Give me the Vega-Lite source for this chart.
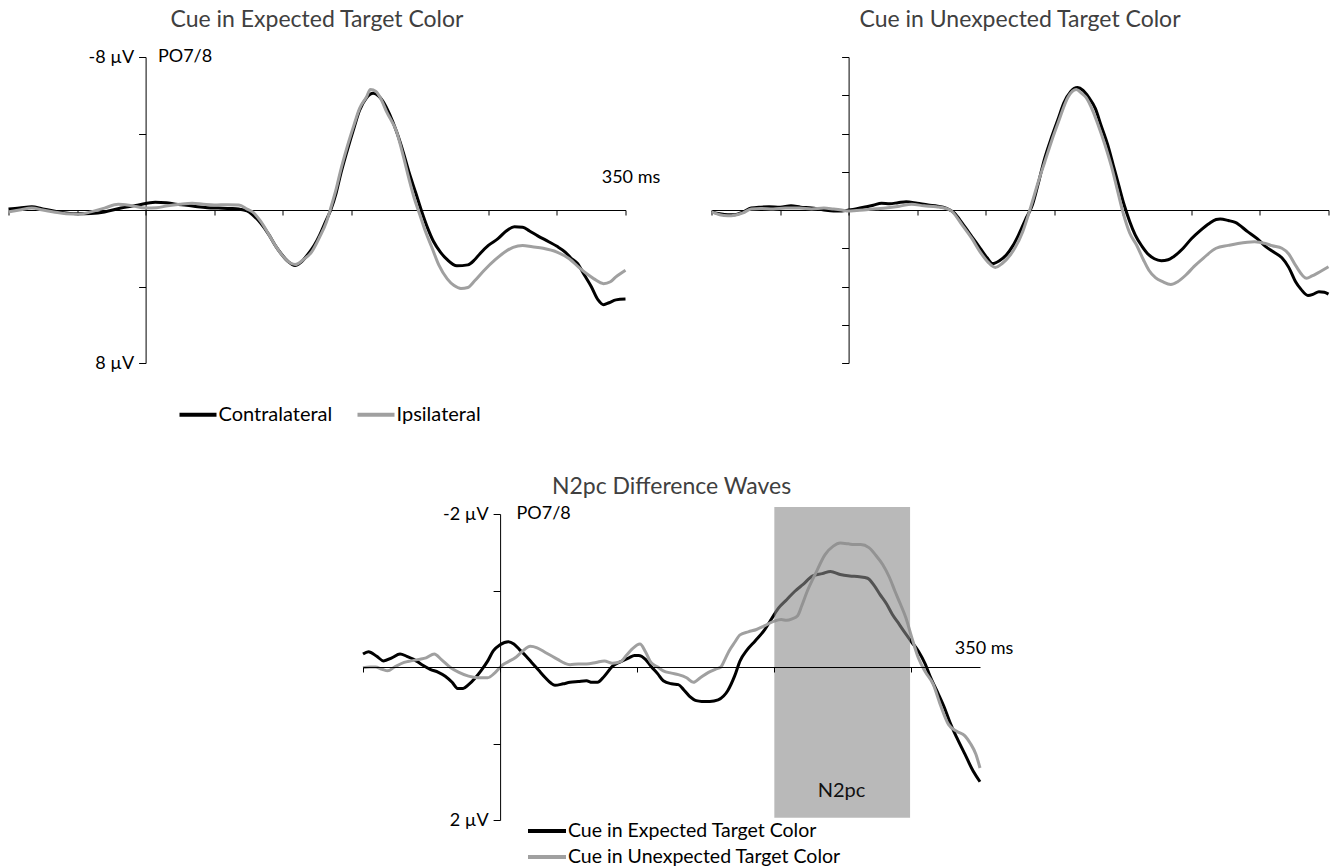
{
  "$schema": "https://vega.github.io/schema/vega-lite/v6.json",
  "background": "white",
  "padding": {"left": 2.5, "top": 8, "right": 5, "bottom": 0},
  "config": {
    "font": "Lato",
    "view": {"stroke": null},
    "axis": {"grid": false, "domainColor": "#000", "tickColor": "#000", "labelColor": "#000", "labelFont": "Lato", "labelFontSize": 18, "title": null, "domainWidth": 1, "tickWidth": 1},
    "legend": {"labelFont": "Lato", "labelFontSize": 20, "labelColor": "#000", "labelLimit": 500},
    "title": {"font": "Lato", "fontSize": 23, "color": "#404040", "fontWeight": "normal"},
    "text": {"font": "Lato"}
  },
  "datasets": {
    "erp": [
      {"p":"A","s":"Contralateral","t":-100,"v":-0.05},{"p":"A","s":"Contralateral","t":-92,"v":-0.1},{"p":"A","s":"Contralateral","t":-83,"v":-0.17},{"p":"A","s":"Contralateral","t":-75,"v":-0.05},{"p":"A","s":"Contralateral","t":-67,"v":0.05},{"p":"A","s":"Contralateral","t":-58,"v":0.15},{"p":"A","s":"Contralateral","t":-49,"v":0.2},{"p":"A","s":"Contralateral","t":-40,"v":0.18},{"p":"A","s":"Contralateral","t":-30,"v":0.1},{"p":"A","s":"Contralateral","t":-18,"v":-0.1},{"p":"A","s":"Contralateral","t":-6,"v":-0.25},{"p":"A","s":"Contralateral","t":7,"v":-0.4},{"p":"A","s":"Contralateral","t":15,"v":-0.38},{"p":"A","s":"Contralateral","t":22,"v":-0.3},{"p":"A","s":"Contralateral","t":30,"v":-0.25},{"p":"A","s":"Contralateral","t":38,"v":-0.17},{"p":"A","s":"Contralateral","t":45,"v":-0.12},{"p":"A","s":"Contralateral","t":53,"v":-0.1},{"p":"A","s":"Contralateral","t":62,"v":-0.08},{"p":"A","s":"Contralateral","t":68,"v":-0.05},{"p":"A","s":"Contralateral","t":74,"v":0.05},{"p":"A","s":"Contralateral","t":78,"v":0.25},{"p":"A","s":"Contralateral","t":84,"v":0.7},{"p":"A","s":"Contralateral","t":90,"v":1.3},{"p":"A","s":"Contralateral","t":95,"v":1.9},{"p":"A","s":"Contralateral","t":99,"v":2.3},{"p":"A","s":"Contralateral","t":104,"v":2.7},{"p":"A","s":"Contralateral","t":109,"v":2.9},{"p":"A","s":"Contralateral","t":113,"v":2.75},{"p":"A","s":"Contralateral","t":118,"v":2.35},{"p":"A","s":"Contralateral","t":123,"v":1.85},{"p":"A","s":"Contralateral","t":127,"v":1.3},{"p":"A","s":"Contralateral","t":131,"v":0.65},{"p":"A","s":"Contralateral","t":135,"v":0},{"p":"A","s":"Contralateral","t":139,"v":-0.9},{"p":"A","s":"Contralateral","t":142,"v":-1.8},{"p":"A","s":"Contralateral","t":147,"v":-3.1},{"p":"A","s":"Contralateral","t":152,"v":-4.3},{"p":"A","s":"Contralateral","t":156,"v":-5.2},{"p":"A","s":"Contralateral","t":161,"v":-5.85},{"p":"A","s":"Contralateral","t":166,"v":-6.1},{"p":"A","s":"Contralateral","t":170,"v":-5.95},{"p":"A","s":"Contralateral","t":173,"v":-5.7},{"p":"A","s":"Contralateral","t":178,"v":-5.0},{"p":"A","s":"Contralateral","t":183,"v":-4.1},{"p":"A","s":"Contralateral","t":188,"v":-3.0},{"p":"A","s":"Contralateral","t":192,"v":-2.0},{"p":"A","s":"Contralateral","t":197,"v":-0.9},{"p":"A","s":"Contralateral","t":201,"v":0},{"p":"A","s":"Contralateral","t":206,"v":1.0},{"p":"A","s":"Contralateral","t":210,"v":1.65},{"p":"A","s":"Contralateral","t":215,"v":2.2},{"p":"A","s":"Contralateral","t":220,"v":2.6},{"p":"A","s":"Contralateral","t":227,"v":2.92},{"p":"A","s":"Contralateral","t":235,"v":2.87},{"p":"A","s":"Contralateral","t":240,"v":2.6},{"p":"A","s":"Contralateral","t":244,"v":2.27},{"p":"A","s":"Contralateral","t":250,"v":1.85},{"p":"A","s":"Contralateral","t":257,"v":1.5},{"p":"A","s":"Contralateral","t":263,"v":1.1},{"p":"A","s":"Contralateral","t":269,"v":0.87},{"p":"A","s":"Contralateral","t":275,"v":0.9},{"p":"A","s":"Contralateral","t":280,"v":1.1},{"p":"A","s":"Contralateral","t":286,"v":1.35},{"p":"A","s":"Contralateral","t":294,"v":1.66},{"p":"A","s":"Contralateral","t":300,"v":1.9},{"p":"A","s":"Contralateral","t":306,"v":2.2},{"p":"A","s":"Contralateral","t":310,"v":2.5},{"p":"A","s":"Contralateral","t":315,"v":2.8},{"p":"A","s":"Contralateral","t":320,"v":3.4},{"p":"A","s":"Contralateral","t":325,"v":4.0},{"p":"A","s":"Contralateral","t":330,"v":4.7},{"p":"A","s":"Contralateral","t":334,"v":4.95},{"p":"A","s":"Contralateral","t":338,"v":4.85},{"p":"A","s":"Contralateral","t":343,"v":4.7},{"p":"A","s":"Contralateral","t":350,"v":4.66},
      {"p":"A","s":"Ipsilateral","t":-100,"v":0.1},{"p":"A","s":"Ipsilateral","t":-92,"v":0.0},{"p":"A","s":"Ipsilateral","t":-83,"v":-0.1},{"p":"A","s":"Ipsilateral","t":-75,"v":0.0},{"p":"A","s":"Ipsilateral","t":-67,"v":0.1},{"p":"A","s":"Ipsilateral","t":-58,"v":0.2},{"p":"A","s":"Ipsilateral","t":-49,"v":0.22},{"p":"A","s":"Ipsilateral","t":-40,"v":0.1},{"p":"A","s":"Ipsilateral","t":-30,"v":-0.1},{"p":"A","s":"Ipsilateral","t":-20,"v":-0.3},{"p":"A","s":"Ipsilateral","t":-10,"v":-0.22},{"p":"A","s":"Ipsilateral","t":0,"v":-0.1},{"p":"A","s":"Ipsilateral","t":8,"v":-0.12},{"p":"A","s":"Ipsilateral","t":16,"v":-0.22},{"p":"A","s":"Ipsilateral","t":25,"v":-0.3},{"p":"A","s":"Ipsilateral","t":34,"v":-0.35},{"p":"A","s":"Ipsilateral","t":42,"v":-0.3},{"p":"A","s":"Ipsilateral","t":50,"v":-0.26},{"p":"A","s":"Ipsilateral","t":60,"v":-0.28},{"p":"A","s":"Ipsilateral","t":68,"v":-0.26},{"p":"A","s":"Ipsilateral","t":74,"v":-0.05},{"p":"A","s":"Ipsilateral","t":78,"v":0.1},{"p":"A","s":"Ipsilateral","t":84,"v":0.6},{"p":"A","s":"Ipsilateral","t":90,"v":1.3},{"p":"A","s":"Ipsilateral","t":95,"v":1.9},{"p":"A","s":"Ipsilateral","t":100,"v":2.4},{"p":"A","s":"Ipsilateral","t":104,"v":2.7},{"p":"A","s":"Ipsilateral","t":109,"v":2.85},{"p":"A","s":"Ipsilateral","t":115,"v":2.6},{"p":"A","s":"Ipsilateral","t":121,"v":2.2},{"p":"A","s":"Ipsilateral","t":127,"v":1.4},{"p":"A","s":"Ipsilateral","t":132,"v":0.6},{"p":"A","s":"Ipsilateral","t":135,"v":-0.1},{"p":"A","s":"Ipsilateral","t":139,"v":-1.1},{"p":"A","s":"Ipsilateral","t":142,"v":-2.0},{"p":"A","s":"Ipsilateral","t":147,"v":-3.3},{"p":"A","s":"Ipsilateral","t":152,"v":-4.45},{"p":"A","s":"Ipsilateral","t":156,"v":-5.3},{"p":"A","s":"Ipsilateral","t":161,"v":-5.9},{"p":"A","s":"Ipsilateral","t":164,"v":-6.3},{"p":"A","s":"Ipsilateral","t":168,"v":-6.2},{"p":"A","s":"Ipsilateral","t":171,"v":-5.9},{"p":"A","s":"Ipsilateral","t":176,"v":-5.1},{"p":"A","s":"Ipsilateral","t":183,"v":-4.1},{"p":"A","s":"Ipsilateral","t":188,"v":-2.8},{"p":"A","s":"Ipsilateral","t":192,"v":-1.65},{"p":"A","s":"Ipsilateral","t":196,"v":-0.6},{"p":"A","s":"Ipsilateral","t":200,"v":0.25},{"p":"A","s":"Ipsilateral","t":204,"v":1.1},{"p":"A","s":"Ipsilateral","t":209,"v":2.0},{"p":"A","s":"Ipsilateral","t":214,"v":2.9},{"p":"A","s":"Ipsilateral","t":220,"v":3.6},{"p":"A","s":"Ipsilateral","t":225,"v":3.95},{"p":"A","s":"Ipsilateral","t":230,"v":4.1},{"p":"A","s":"Ipsilateral","t":235,"v":4.05},{"p":"A","s":"Ipsilateral","t":240,"v":3.7},{"p":"A","s":"Ipsilateral","t":247,"v":3.15},{"p":"A","s":"Ipsilateral","t":255,"v":2.6},{"p":"A","s":"Ipsilateral","t":262,"v":2.2},{"p":"A","s":"Ipsilateral","t":268,"v":1.95},{"p":"A","s":"Ipsilateral","t":275,"v":1.85},{"p":"A","s":"Ipsilateral","t":282,"v":1.92},{"p":"A","s":"Ipsilateral","t":290,"v":2.0},{"p":"A","s":"Ipsilateral","t":300,"v":2.2},{"p":"A","s":"Ipsilateral","t":309,"v":2.55},{"p":"A","s":"Ipsilateral","t":316,"v":3.0},{"p":"A","s":"Ipsilateral","t":322,"v":3.35},{"p":"A","s":"Ipsilateral","t":327,"v":3.6},{"p":"A","s":"Ipsilateral","t":334,"v":3.85},{"p":"A","s":"Ipsilateral","t":339,"v":3.75},{"p":"A","s":"Ipsilateral","t":343,"v":3.5},{"p":"A","s":"Ipsilateral","t":350,"v":3.15},
      {"p":"B","s":"Contralateral","t":-100,"v":0.1},{"p":"B","s":"Contralateral","t":-94,"v":0.2},{"p":"B","s":"Contralateral","t":-88,"v":0.25},{"p":"B","s":"Contralateral","t":-83,"v":0.25},{"p":"B","s":"Contralateral","t":-77,"v":0.1},{"p":"B","s":"Contralateral","t":-71,"v":-0.1},{"p":"B","s":"Contralateral","t":-64,"v":-0.15},{"p":"B","s":"Contralateral","t":-58,"v":-0.17},{"p":"B","s":"Contralateral","t":-50,"v":-0.15},{"p":"B","s":"Contralateral","t":-42,"v":-0.22},{"p":"B","s":"Contralateral","t":-35,"v":-0.15},{"p":"B","s":"Contralateral","t":-27,"v":-0.1},{"p":"B","s":"Contralateral","t":-18,"v":0.0},{"p":"B","s":"Contralateral","t":-11,"v":0.05},{"p":"B","s":"Contralateral","t":-5,"v":0.05},{"p":"B","s":"Contralateral","t":0,"v":0.0},{"p":"B","s":"Contralateral","t":6,"v":-0.07},{"p":"B","s":"Contralateral","t":11,"v":-0.14},{"p":"B","s":"Contralateral","t":18,"v":-0.25},{"p":"B","s":"Contralateral","t":24,"v":-0.35},{"p":"B","s":"Contralateral","t":30,"v":-0.33},{"p":"B","s":"Contralateral","t":36,"v":-0.38},{"p":"B","s":"Contralateral","t":42,"v":-0.43},{"p":"B","s":"Contralateral","t":50,"v":-0.35},{"p":"B","s":"Contralateral","t":58,"v":-0.26},{"p":"B","s":"Contralateral","t":65,"v":-0.2},{"p":"B","s":"Contralateral","t":71,"v":-0.1},{"p":"B","s":"Contralateral","t":77,"v":0.15},{"p":"B","s":"Contralateral","t":83,"v":0.7},{"p":"B","s":"Contralateral","t":90,"v":1.4},{"p":"B","s":"Contralateral","t":96,"v":2.0},{"p":"B","s":"Contralateral","t":101,"v":2.5},{"p":"B","s":"Contralateral","t":105,"v":2.8},{"p":"B","s":"Contralateral","t":110,"v":2.65},{"p":"B","s":"Contralateral","t":115,"v":2.35},{"p":"B","s":"Contralateral","t":120,"v":1.85},{"p":"B","s":"Contralateral","t":124,"v":1.3},{"p":"B","s":"Contralateral","t":129,"v":0.5},{"p":"B","s":"Contralateral","t":134,"v":-0.26},{"p":"B","s":"Contralateral","t":138,"v":-1.3},{"p":"B","s":"Contralateral","t":143,"v":-2.7},{"p":"B","s":"Contralateral","t":148,"v":-3.8},{"p":"B","s":"Contralateral","t":153,"v":-4.8},{"p":"B","s":"Contralateral","t":157,"v":-5.6},{"p":"B","s":"Contralateral","t":162,"v":-6.2},{"p":"B","s":"Contralateral","t":167,"v":-6.4},{"p":"B","s":"Contralateral","t":171,"v":-6.25},{"p":"B","s":"Contralateral","t":175,"v":-5.9},{"p":"B","s":"Contralateral","t":180,"v":-5.3},{"p":"B","s":"Contralateral","t":184,"v":-4.45},{"p":"B","s":"Contralateral","t":189,"v":-3.4},{"p":"B","s":"Contralateral","t":193,"v":-2.35},{"p":"B","s":"Contralateral","t":197,"v":-1.3},{"p":"B","s":"Contralateral","t":201,"v":-0.26},{"p":"B","s":"Contralateral","t":205,"v":0.6},{"p":"B","s":"Contralateral","t":209,"v":1.3},{"p":"B","s":"Contralateral","t":214,"v":1.9},{"p":"B","s":"Contralateral","t":219,"v":2.35},{"p":"B","s":"Contralateral","t":223,"v":2.55},{"p":"B","s":"Contralateral","t":228,"v":2.65},{"p":"B","s":"Contralateral","t":233,"v":2.6},{"p":"B","s":"Contralateral","t":237,"v":2.44},{"p":"B","s":"Contralateral","t":244,"v":2.0},{"p":"B","s":"Contralateral","t":250,"v":1.5},{"p":"B","s":"Contralateral","t":256,"v":1.1},{"p":"B","s":"Contralateral","t":263,"v":0.7},{"p":"B","s":"Contralateral","t":268,"v":0.5},{"p":"B","s":"Contralateral","t":271,"v":0.47},{"p":"B","s":"Contralateral","t":277,"v":0.55},{"p":"B","s":"Contralateral","t":282,"v":0.65},{"p":"B","s":"Contralateral","t":291,"v":1.13},{"p":"B","s":"Contralateral","t":298,"v":1.5},{"p":"B","s":"Contralateral","t":304,"v":1.9},{"p":"B","s":"Contralateral","t":310,"v":2.2},{"p":"B","s":"Contralateral","t":316,"v":2.5},{"p":"B","s":"Contralateral","t":321,"v":3.0},{"p":"B","s":"Contralateral","t":326,"v":3.75},{"p":"B","s":"Contralateral","t":330,"v":4.15},{"p":"B","s":"Contralateral","t":335,"v":4.47},{"p":"B","s":"Contralateral","t":339,"v":4.4},{"p":"B","s":"Contralateral","t":343,"v":4.27},{"p":"B","s":"Contralateral","t":347,"v":4.3},{"p":"B","s":"Contralateral","t":350,"v":4.4},
      {"p":"B","s":"Ipsilateral","t":-100,"v":0.1},{"p":"B","s":"Ipsilateral","t":-94,"v":0.25},{"p":"B","s":"Ipsilateral","t":-88,"v":0.3},{"p":"B","s":"Ipsilateral","t":-83,"v":0.27},{"p":"B","s":"Ipsilateral","t":-77,"v":0.15},{"p":"B","s":"Ipsilateral","t":-71,"v":-0.05},{"p":"B","s":"Ipsilateral","t":-64,"v":-0.08},{"p":"B","s":"Ipsilateral","t":-55,"v":-0.05},{"p":"B","s":"Ipsilateral","t":-46,"v":-0.1},{"p":"B","s":"Ipsilateral","t":-36,"v":-0.1},{"p":"B","s":"Ipsilateral","t":-27,"v":-0.05},{"p":"B","s":"Ipsilateral","t":-18,"v":-0.1},{"p":"B","s":"Ipsilateral","t":-11,"v":-0.05},{"p":"B","s":"Ipsilateral","t":-5,"v":0.0},{"p":"B","s":"Ipsilateral","t":0,"v":0.05},{"p":"B","s":"Ipsilateral","t":6,"v":0.02},{"p":"B","s":"Ipsilateral","t":11,"v":0.0},{"p":"B","s":"Ipsilateral","t":20,"v":-0.07},{"p":"B","s":"Ipsilateral","t":27,"v":-0.1},{"p":"B","s":"Ipsilateral","t":37,"v":-0.2},{"p":"B","s":"Ipsilateral","t":46,"v":-0.3},{"p":"B","s":"Ipsilateral","t":55,"v":-0.22},{"p":"B","s":"Ipsilateral","t":64,"v":-0.17},{"p":"B","s":"Ipsilateral","t":74,"v":0.0},{"p":"B","s":"Ipsilateral","t":83,"v":0.8},{"p":"B","s":"Ipsilateral","t":90,"v":1.5},{"p":"B","s":"Ipsilateral","t":96,"v":2.2},{"p":"B","s":"Ipsilateral","t":102,"v":2.75},{"p":"B","s":"Ipsilateral","t":107,"v":3.0},{"p":"B","s":"Ipsilateral","t":112,"v":2.8},{"p":"B","s":"Ipsilateral","t":118,"v":2.35},{"p":"B","s":"Ipsilateral","t":127,"v":1.13},{"p":"B","s":"Ipsilateral","t":134,"v":-0.43},{"p":"B","s":"Ipsilateral","t":138,"v":-1.4},{"p":"B","s":"Ipsilateral","t":143,"v":-2.5},{"p":"B","s":"Ipsilateral","t":148,"v":-3.6},{"p":"B","s":"Ipsilateral","t":153,"v":-4.6},{"p":"B","s":"Ipsilateral","t":160,"v":-5.9},{"p":"B","s":"Ipsilateral","t":166,"v":-6.3},{"p":"B","s":"Ipsilateral","t":170,"v":-6.1},{"p":"B","s":"Ipsilateral","t":173,"v":-5.9},{"p":"B","s":"Ipsilateral","t":178,"v":-5.2},{"p":"B","s":"Ipsilateral","t":182,"v":-4.45},{"p":"B","s":"Ipsilateral","t":187,"v":-3.4},{"p":"B","s":"Ipsilateral","t":192,"v":-2.2},{"p":"B","s":"Ipsilateral","t":196,"v":-1.05},{"p":"B","s":"Ipsilateral","t":200,"v":0.1},{"p":"B","s":"Ipsilateral","t":205,"v":1.2},{"p":"B","s":"Ipsilateral","t":210,"v":1.83},{"p":"B","s":"Ipsilateral","t":215,"v":2.6},{"p":"B","s":"Ipsilateral","t":219,"v":3.15},{"p":"B","s":"Ipsilateral","t":224,"v":3.55},{"p":"B","s":"Ipsilateral","t":229,"v":3.75},{"p":"B","s":"Ipsilateral","t":235,"v":3.9},{"p":"B","s":"Ipsilateral","t":240,"v":3.75},{"p":"B","s":"Ipsilateral","t":246,"v":3.4},{"p":"B","s":"Ipsilateral","t":252,"v":2.95},{"p":"B","s":"Ipsilateral","t":259,"v":2.5},{"p":"B","s":"Ipsilateral","t":268,"v":2.0},{"p":"B","s":"Ipsilateral","t":277,"v":1.85},{"p":"B","s":"Ipsilateral","t":284,"v":1.75},{"p":"B","s":"Ipsilateral","t":296,"v":1.66},{"p":"B","s":"Ipsilateral","t":304,"v":1.75},{"p":"B","s":"Ipsilateral","t":309,"v":1.87},{"p":"B","s":"Ipsilateral","t":316,"v":2.0},{"p":"B","s":"Ipsilateral","t":321,"v":2.3},{"p":"B","s":"Ipsilateral","t":326,"v":2.9},{"p":"B","s":"Ipsilateral","t":334,"v":3.57},{"p":"B","s":"Ipsilateral","t":338,"v":3.45},{"p":"B","s":"Ipsilateral","t":342,"v":3.3},{"p":"B","s":"Ipsilateral","t":350,"v":2.97}
    ],
    "diff": [
      {"s":"Cue in Expected Target Color","t":-100,"v":-0.17},{"s":"Cue in Expected Target Color","t":-96,"v":-0.2},{"s":"Cue in Expected Target Color","t":-90,"v":-0.14},{"s":"Cue in Expected Target Color","t":-85,"v":-0.08},{"s":"Cue in Expected Target Color","t":-79,"v":-0.12},{"s":"Cue in Expected Target Color","t":-73,"v":-0.17},{"s":"Cue in Expected Target Color","t":-68,"v":-0.14},{"s":"Cue in Expected Target Color","t":-63,"v":-0.1},{"s":"Cue in Expected Target Color","t":-57,"v":-0.03},{"s":"Cue in Expected Target Color","t":-51,"v":0.03},{"s":"Cue in Expected Target Color","t":-45,"v":0.07},{"s":"Cue in Expected Target Color","t":-40,"v":0.12},{"s":"Cue in Expected Target Color","t":-35,"v":0.2},{"s":"Cue in Expected Target Color","t":-31,"v":0.28},{"s":"Cue in Expected Target Color","t":-27,"v":0.28},{"s":"Cue in Expected Target Color","t":-23,"v":0.23},{"s":"Cue in Expected Target Color","t":-18,"v":0.14},{"s":"Cue in Expected Target Color","t":-14,"v":0.05},{"s":"Cue in Expected Target Color","t":-9,"v":-0.08},{"s":"Cue in Expected Target Color","t":-5,"v":-0.21},{"s":"Cue in Expected Target Color","t":0,"v":-0.29},{"s":"Cue in Expected Target Color","t":6,"v":-0.33},{"s":"Cue in Expected Target Color","t":10,"v":-0.3},{"s":"Cue in Expected Target Color","t":14,"v":-0.23},{"s":"Cue in Expected Target Color","t":19,"v":-0.14},{"s":"Cue in Expected Target Color","t":23,"v":-0.06},{"s":"Cue in Expected Target Color","t":28,"v":0.04},{"s":"Cue in Expected Target Color","t":33,"v":0.14},{"s":"Cue in Expected Target Color","t":37,"v":0.21},{"s":"Cue in Expected Target Color","t":40,"v":0.24},{"s":"Cue in Expected Target Color","t":46,"v":0.22},{"s":"Cue in Expected Target Color","t":51,"v":0.2},{"s":"Cue in Expected Target Color","t":57,"v":0.19},{"s":"Cue in Expected Target Color","t":63,"v":0.18},{"s":"Cue in Expected Target Color","t":67,"v":0.2},{"s":"Cue in Expected Target Color","t":71,"v":0.2},{"s":"Cue in Expected Target Color","t":76,"v":0.12},{"s":"Cue in Expected Target Color","t":82,"v":-0.01},{"s":"Cue in Expected Target Color","t":88,"v":-0.07},{"s":"Cue in Expected Target Color","t":94,"v":-0.12},{"s":"Cue in Expected Target Color","t":98,"v":-0.15},{"s":"Cue in Expected Target Color","t":101,"v":-0.15},{"s":"Cue in Expected Target Color","t":106,"v":-0.1},{"s":"Cue in Expected Target Color","t":110,"v":-0.01},{"s":"Cue in Expected Target Color","t":115,"v":0.09},{"s":"Cue in Expected Target Color","t":119,"v":0.18},{"s":"Cue in Expected Target Color","t":125,"v":0.22},{"s":"Cue in Expected Target Color","t":130,"v":0.23},{"s":"Cue in Expected Target Color","t":134,"v":0.3},{"s":"Cue in Expected Target Color","t":138,"v":0.38},{"s":"Cue in Expected Target Color","t":143,"v":0.44},{"s":"Cue in Expected Target Color","t":147,"v":0.45},{"s":"Cue in Expected Target Color","t":153,"v":0.45},{"s":"Cue in Expected Target Color","t":159,"v":0.43},{"s":"Cue in Expected Target Color","t":163,"v":0.38},{"s":"Cue in Expected Target Color","t":166,"v":0.31},{"s":"Cue in Expected Target Color","t":171,"v":0.12},{"s":"Cue in Expected Target Color","t":175,"v":-0.08},{"s":"Cue in Expected Target Color","t":180,"v":-0.22},{"s":"Cue in Expected Target Color","t":186,"v":-0.34},{"s":"Cue in Expected Target Color","t":193,"v":-0.49},{"s":"Cue in Expected Target Color","t":198,"v":-0.63},{"s":"Cue in Expected Target Color","t":203,"v":-0.77},{"s":"Cue in Expected Target Color","t":209,"v":-0.88},{"s":"Cue in Expected Target Color","t":215,"v":-0.99},{"s":"Cue in Expected Target Color","t":221,"v":-1.08},{"s":"Cue in Expected Target Color","t":228,"v":-1.19},{"s":"Cue in Expected Target Color","t":235,"v":-1.22},{"s":"Cue in Expected Target Color","t":241,"v":-1.25},{"s":"Cue in Expected Target Color","t":248,"v":-1.21},{"s":"Cue in Expected Target Color","t":255,"v":-1.19},{"s":"Cue in Expected Target Color","t":262,"v":-1.18},{"s":"Cue in Expected Target Color","t":268,"v":-1.16},{"s":"Cue in Expected Target Color","t":273,"v":-1.06},{"s":"Cue in Expected Target Color","t":277,"v":-0.95},{"s":"Cue in Expected Target Color","t":282,"v":-0.82},{"s":"Cue in Expected Target Color","t":286,"v":-0.69},{"s":"Cue in Expected Target Color","t":291,"v":-0.56},{"s":"Cue in Expected Target Color","t":296,"v":-0.43},{"s":"Cue in Expected Target Color","t":300,"v":-0.33},{"s":"Cue in Expected Target Color","t":305,"v":-0.21},{"s":"Cue in Expected Target Color","t":310,"v":-0.04},{"s":"Cue in Expected Target Color","t":314,"v":0.14},{"s":"Cue in Expected Target Color","t":319,"v":0.33},{"s":"Cue in Expected Target Color","t":324,"v":0.53},{"s":"Cue in Expected Target Color","t":328,"v":0.72},{"s":"Cue in Expected Target Color","t":333,"v":0.92},{"s":"Cue in Expected Target Color","t":339,"v":1.14},{"s":"Cue in Expected Target Color","t":345,"v":1.36},{"s":"Cue in Expected Target Color","t":350,"v":1.5},
      {"s":"Cue in Unexpected Target Color","t":-100,"v":0.01},{"s":"Cue in Unexpected Target Color","t":-95,"v":0.0},{"s":"Cue in Unexpected Target Color","t":-91,"v":0.0},{"s":"Cue in Unexpected Target Color","t":-86,"v":0.03},{"s":"Cue in Unexpected Target Color","t":-82,"v":0.05},{"s":"Cue in Unexpected Target Color","t":-77,"v":0.0},{"s":"Cue in Unexpected Target Color","t":-70,"v":-0.06},{"s":"Cue in Unexpected Target Color","t":-65,"v":-0.08},{"s":"Cue in Unexpected Target Color","t":-59,"v":-0.1},{"s":"Cue in Unexpected Target Color","t":-54,"v":-0.12},{"s":"Cue in Unexpected Target Color","t":-48,"v":-0.17},{"s":"Cue in Unexpected Target Color","t":-43,"v":-0.1},{"s":"Cue in Unexpected Target Color","t":-36,"v":0.01},{"s":"Cue in Unexpected Target Color","t":-30,"v":0.07},{"s":"Cue in Unexpected Target Color","t":-23,"v":0.12},{"s":"Cue in Unexpected Target Color","t":-16,"v":0.14},{"s":"Cue in Unexpected Target Color","t":-9,"v":0.14},{"s":"Cue in Unexpected Target Color","t":-4,"v":0.08},{"s":"Cue in Unexpected Target Color","t":2,"v":-0.03},{"s":"Cue in Unexpected Target Color","t":6,"v":-0.07},{"s":"Cue in Unexpected Target Color","t":11,"v":-0.12},{"s":"Cue in Unexpected Target Color","t":16,"v":-0.2},{"s":"Cue in Unexpected Target Color","t":22,"v":-0.27},{"s":"Cue in Unexpected Target Color","t":27,"v":-0.25},{"s":"Cue in Unexpected Target Color","t":33,"v":-0.19},{"s":"Cue in Unexpected Target Color","t":38,"v":-0.14},{"s":"Cue in Unexpected Target Color","t":42,"v":-0.1},{"s":"Cue in Unexpected Target Color","t":47,"v":-0.05},{"s":"Cue in Unexpected Target Color","t":51,"v":-0.03},{"s":"Cue in Unexpected Target Color","t":57,"v":-0.04},{"s":"Cue in Unexpected Target Color","t":63,"v":-0.04},{"s":"Cue in Unexpected Target Color","t":70,"v":-0.06},{"s":"Cue in Unexpected Target Color","t":76,"v":-0.08},{"s":"Cue in Unexpected Target Color","t":82,"v":-0.05},{"s":"Cue in Unexpected Target Color","t":88,"v":-0.07},{"s":"Cue in Unexpected Target Color","t":92,"v":-0.15},{"s":"Cue in Unexpected Target Color","t":96,"v":-0.23},{"s":"Cue in Unexpected Target Color","t":102,"v":-0.3},{"s":"Cue in Unexpected Target Color","t":106,"v":-0.2},{"s":"Cue in Unexpected Target Color","t":110,"v":-0.06},{"s":"Cue in Unexpected Target Color","t":115,"v":0.0},{"s":"Cue in Unexpected Target Color","t":119,"v":0.05},{"s":"Cue in Unexpected Target Color","t":125,"v":0.08},{"s":"Cue in Unexpected Target Color","t":130,"v":0.1},{"s":"Cue in Unexpected Target Color","t":136,"v":0.14},{"s":"Cue in Unexpected Target Color","t":141,"v":0.2},{"s":"Cue in Unexpected Target Color","t":146,"v":0.14},{"s":"Cue in Unexpected Target Color","t":152,"v":0.07},{"s":"Cue in Unexpected Target Color","t":157,"v":0.03},{"s":"Cue in Unexpected Target Color","t":161,"v":0.0},{"s":"Cue in Unexpected Target Color","t":164,"v":-0.1},{"s":"Cue in Unexpected Target Color","t":167,"v":-0.21},{"s":"Cue in Unexpected Target Color","t":171,"v":-0.32},{"s":"Cue in Unexpected Target Color","t":175,"v":-0.42},{"s":"Cue in Unexpected Target Color","t":181,"v":-0.46},{"s":"Cue in Unexpected Target Color","t":187,"v":-0.49},{"s":"Cue in Unexpected Target Color","t":193,"v":-0.54},{"s":"Cue in Unexpected Target Color","t":200,"v":-0.6},{"s":"Cue in Unexpected Target Color","t":205,"v":-0.62},{"s":"Cue in Unexpected Target Color","t":209,"v":-0.61},{"s":"Cue in Unexpected Target Color","t":213,"v":-0.63},{"s":"Cue in Unexpected Target Color","t":217,"v":-0.67},{"s":"Cue in Unexpected Target Color","t":220,"v":-0.8},{"s":"Cue in Unexpected Target Color","t":224,"v":-0.99},{"s":"Cue in Unexpected Target Color","t":230,"v":-1.22},{"s":"Cue in Unexpected Target Color","t":237,"v":-1.47},{"s":"Cue in Unexpected Target Color","t":243,"v":-1.58},{"s":"Cue in Unexpected Target Color","t":248,"v":-1.62},{"s":"Cue in Unexpected Target Color","t":254,"v":-1.61},{"s":"Cue in Unexpected Target Color","t":258,"v":-1.6},{"s":"Cue in Unexpected Target Color","t":263,"v":-1.6},{"s":"Cue in Unexpected Target Color","t":269,"v":-1.56},{"s":"Cue in Unexpected Target Color","t":274,"v":-1.46},{"s":"Cue in Unexpected Target Color","t":279,"v":-1.34},{"s":"Cue in Unexpected Target Color","t":284,"v":-1.17},{"s":"Cue in Unexpected Target Color","t":288,"v":-0.99},{"s":"Cue in Unexpected Target Color","t":292,"v":-0.82},{"s":"Cue in Unexpected Target Color","t":296,"v":-0.64},{"s":"Cue in Unexpected Target Color","t":300,"v":-0.4},{"s":"Cue in Unexpected Target Color","t":305,"v":-0.12},{"s":"Cue in Unexpected Target Color","t":310,"v":0.06},{"s":"Cue in Unexpected Target Color","t":316,"v":0.23},{"s":"Cue in Unexpected Target Color","t":321,"v":0.49},{"s":"Cue in Unexpected Target Color","t":327,"v":0.75},{"s":"Cue in Unexpected Target Color","t":333,"v":0.84},{"s":"Cue in Unexpected Target Color","t":339,"v":0.9},{"s":"Cue in Unexpected Target Color","t":343,"v":1.0},{"s":"Cue in Unexpected Target Color","t":347,"v":1.14},{"s":"Cue in Unexpected Target Color","t":350,"v":1.32}
    ],
    "window": [{"label": "N2pc", "start": 200, "end": 299, "low": -2.09, "high": 1.97, "labelT": 249, "labelV": 1.62}]
  },
  "spacing": 51,
  "center": true,
  "resolve": {"scale": {"color": "independent"}, "legend": {"color": "independent"}},
  "vconcat": [
    {
      "spacing": 86,
      "bounds": "flush",
      "resolve": {"scale": {"color": "independent"}, "legend": {"color": "independent"}},
      "hconcat": [
        {
          "width": 617, "height": 306,
          "title": {"text": "Cue in Expected Target Color", "offset": 16},
          "layer": [
            {
              "data": {"name": "erp"},
              "transform": [{"filter": "datum.p == 'A'"}],
              "mark": {"type": "line", "strokeWidth": 3, "interpolate": "monotone"},
              "encoding": {
                "x": {"field": "t", "type": "quantitative", "scale": {"domain": [-100, 350], "nice": false, "zero": false},
                      "axis": {"orient": "bottom", "offset": -153, "values": [-100, -50, 0, 50, 100, 150, 200, 250, 300, 350], "labels": false, "tickSize": 5}},
                "y": {"field": "v", "type": "quantitative", "scale": {"domain": [-8, 8], "reverse": true, "nice": false},
                      "axis": {"orient": "left", "offset": -137.1, "values": [-8, -6, -4, -2, 0, 2, 4, 6, 8], "tickSize": 7, "labelPadding": 5,
                               "labelExpr": "datum.value == -8 ? '-8 µV' : datum.value == 8 ? '8 µV' : ''"}},
                "color": {"field": "s", "type": "nominal", "scale": {"domain": ["Contralateral", "Ipsilateral"], "range": ["#000000", "#a0a0a0"]},
                          "legend": {"title": null, "orient": "none", "legendX": 169, "legendY": 337, "direction": "horizontal", "symbolType": "stroke", "symbolSize": 1369, "symbolStrokeWidth": 4, "labelOffset": 0, "columnPadding": 17}}
              }
            },
            {
              "data": {"values": [{}]},
              "mark": {"type": "text", "align": "left", "baseline": "middle", "fontSize": 18, "color": "#000"},
              "encoding": {"x": {"datum": 9}, "y": {"datum": -8}, "text": {"value": "PO7/8"}}
            },
            {
              "data": {"values": [{}]},
              "mark": {"type": "text", "align": "center", "baseline": "middle", "fontSize": 18, "color": "#000"},
              "encoding": {"x": {"datum": 354}, "y": {"datum": -1.67}, "text": {"value": "350 ms"}}
            }
          ]
        },
        {
          "width": 617, "height": 306,
          "title": {"text": "Cue in Unexpected Target Color", "offset": 25},
          "data": {"name": "erp"},
          "transform": [{"filter": "datum.p == 'B'"}],
          "mark": {"type": "line", "strokeWidth": 3, "interpolate": "monotone"},
          "encoding": {
            "x": {"field": "t", "type": "quantitative", "scale": {"domain": [-100, 350], "nice": false, "zero": false},
                  "axis": {"orient": "bottom", "offset": -153, "values": [-100, -50, 0, 50, 100, 150, 200, 250, 300, 350], "labels": false, "tickSize": 5}},
            "y": {"field": "v", "type": "quantitative", "scale": {"domain": [-8, 8], "reverse": true, "nice": false},
                  "axis": {"orient": "left", "offset": -137.1, "values": [-8, -6, -4, -2, 0, 2, 4, 6, 8], "tickSize": 7, "labels": false}},
            "color": {"field": "s", "type": "nominal", "scale": {"domain": ["Contralateral", "Ipsilateral"], "range": ["#000000", "#a0a0a0"]}, "legend": null}
          }
        }
      ]
    },
    {
      "width": 685, "height": 306,
      "view": {"fill": "white", "stroke": null},
      "title": {"text": "N2pc Difference Waves", "offset": 6},
      "layer": [
        {
          "data": {"name": "diff"},
          "mark": {"type": "line", "strokeWidth": 3, "interpolate": "monotone"},
          "encoding": {
            "x": {"field": "t", "type": "quantitative", "scale": {"domain": [-100, 350], "range": [34, 651], "nice": false, "zero": false},
                  "axis": {"orient": "bottom", "offset": -153, "values": [-100, 0, 100, 200, 300], "labels": false, "tickSize": 5, "zindex": 1}},
            "y": {"field": "v", "type": "quantitative", "scale": {"domain": [-2, 2], "reverse": true, "nice": false},
                  "axis": {"orient": "left", "offset": -171.1, "values": [-2, -1.5, -1, -0.5, 0, 0.5, 1, 1.5, 2], "tickSize": 7, "labelPadding": 5, "zindex": 1,
                           "labelExpr": "datum.value == -2 ? '-2 µV' : datum.value == 2 ? '2 µV' : ''"}},
            "color": {"field": "s", "type": "nominal", "scale": {"domain": ["Cue in Expected Target Color", "Cue in Unexpected Target Color"], "range": ["#000000", "#a0a0a0"]},
                      "legend": {"title": null, "orient": "none", "legendX": 197, "legendY": 304, "direction": "vertical", "symbolType": "stroke", "symbolSize": 1444, "symbolStrokeWidth": 4, "labelOffset": 0, "labelFontSize": 19.5, "clipHeight": 26, "rowPadding": 0}}
          }
        },
        {
          "data": {"name": "window"},
          "mark": {"type": "rect", "color": "#8b8b8b", "opacity": 0.6},
          "encoding": {
            "x": {"field": "start", "type": "quantitative"},
            "x2": {"field": "end"},
            "y": {"field": "low", "type": "quantitative"},
            "y2": {"field": "high"}
          }
        },
        {
          "data": {"name": "window"},
          "mark": {"type": "text", "align": "center", "baseline": "middle", "fontSize": 20, "color": "#111"},
          "encoding": {"x": {"field": "labelT", "type": "quantitative"}, "y": {"field": "labelV", "type": "quantitative"}, "text": {"field": "label"}}
        },
        {
          "data": {"values": [{}]},
          "mark": {"type": "text", "align": "left", "baseline": "middle", "fontSize": 18, "color": "#000"},
          "encoding": {"x": {"datum": 12}, "y": {"datum": -2}, "text": {"value": "PO7/8"}}
        },
        {
          "data": {"values": [{}]},
          "mark": {"type": "text", "align": "center", "baseline": "middle", "fontSize": 18, "color": "#000"},
          "encoding": {"x": {"datum": 353}, "y": {"datum": -0.24}, "text": {"value": "350 ms"}}
        }
      ]
    }
  ]
}
